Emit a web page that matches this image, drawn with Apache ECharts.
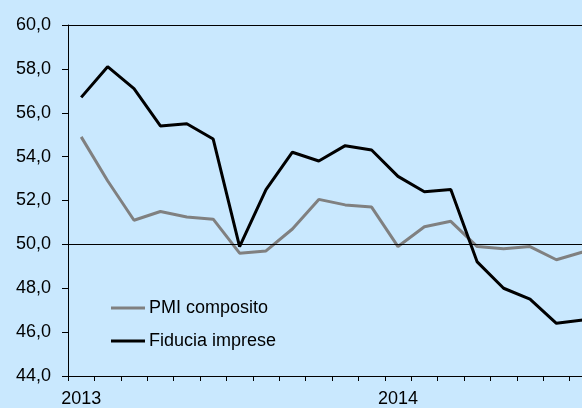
<!DOCTYPE html>
<html lang="it">
<head>
    <meta charset="UTF-8">
    <title>PMI e fiducia imprese</title>
    <style>
        html, body { margin: 0; padding: 0; background: #c9e8fe; overflow: hidden; }
        /* il grafico originale è tagliato a destra: il div è più largo della finestra */
        #chart { width: 600px; height: 408px; }
    </style>
</head>
<body>
<div id="chart"></div>
<script src="https://cdn.jsdelivr.net/npm/echarts@6/dist/echarts.min.js"></script>
<script>
    // mesi da gen 2013 ad ago 2014
    var months = ['gen 13', 'feb 13', 'mar 13', 'apr 13', 'mag 13', 'giu 13', 'lug 13', 'ago 13', 'set 13', 'ott 13', 'nov 13', 'dic 13',
                  'gen 14', 'feb 14', 'mar 14', 'apr 14', 'mag 14', 'giu 14', 'lug 14', 'ago 14'];
    var tick_labels = ['2013', '', '', '', '', '', '', '', '', '', '', '',
                       '2014', '', '', '', '', '', '', ''];
    var pmi_composito = [54.9, 52.9, 51.1, 51.5, 51.25, 51.15, 49.6, 49.7, 50.7, 52.05, 51.8, 51.7,
                         49.9, 50.8, 51.05, 49.9, 49.8, 49.9, 49.3, 49.65];
    var fiducia_imprese = [56.7, 58.1, 57.1, 55.4, 55.5, 54.8, 49.9, 52.5, 54.2, 53.8, 54.5, 54.3,
                           53.1, 52.4, 52.5, 49.2, 48.0, 47.5, 46.4, 46.55];
    var y_lines = [50, 60];

    var myChart = echarts.init(document.getElementById('chart'));

    var font_family = 'Liberation Sans, Arial, sans-serif';

    var option = {
        backgroundColor: '#c9e8fe',
        animation: false,
        grid: {left: 68, top: 25, width: 528, height: 351},
        legend: {
            orient: 'vertical',
            left: 106,
            top: 293,
            itemWidth: 34,
            itemHeight: 3,
            itemGap: 13,
            icon: 'rect',
            textStyle: {fontFamily: font_family, fontSize: 18, color: '#000', lineHeight: 20, padding: [0, 0, 0, -1]},
            data: ['PMI composito', 'Fiducia imprese']
        },
        xAxis: {
            type: 'category',
            data: months,
            boundaryGap: true,
            axisLine: {lineStyle: {color: '#000', width: 1}},
            axisTick: {show: true, interval: 0, length: 5, lineStyle: {color: '#000'}},
            axisLabel: {
                interval: 0,
                margin: 14,
                fontFamily: font_family, fontSize: 18, color: '#000',
                formatter: function (v, i) { return tick_labels[i]; }
            },
            splitLine: {show: false}
        },
        yAxis: {
            type: 'value',
            min: 44,
            max: 60,
            interval: 2,
            axisLine: {show: true, lineStyle: {color: '#000', width: 1}},
            axisTick: {show: true, length: 6, lineStyle: {color: '#000'}},
            axisLabel: {
                margin: 17,
                fontFamily: font_family, fontSize: 18, color: '#000',
                formatter: function (v) { return v.toFixed(1).replace('.', ','); }
            },
            splitLine: {show: false}
        },
        series: [
            {
                name: 'PMI composito',
                type: 'line',
                data: pmi_composito,
                showSymbol: false,
                symbol: 'none',
                color: '#808080',
                lineStyle: {color: '#808080', width: 3},
                markLine: {
                    silent: true,
                    symbol: 'none',
                    label: {show: false},
                    lineStyle: {color: '#000', width: 1, type: 'solid'},
                    data: y_lines.map(function (v) { return {yAxis: v}; })
                }
            },
            {
                name: 'Fiducia imprese',
                type: 'line',
                data: fiducia_imprese,
                showSymbol: false,
                symbol: 'none',
                color: '#000',
                lineStyle: {color: '#000', width: 3}
            }
        ]
    };

    myChart.setOption(option);
</script>
</body>
</html>
